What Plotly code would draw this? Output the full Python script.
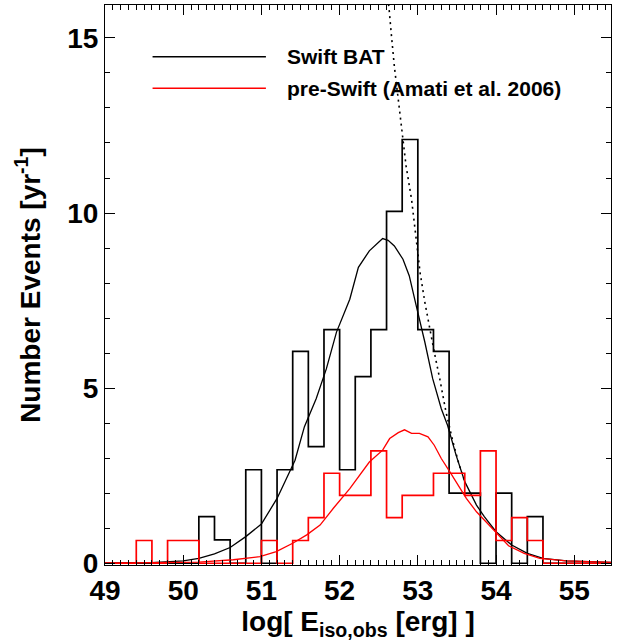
import plotly.graph_objects as go

# ---- data ----
bin_left = [49.0, 49.2, 49.4, 49.6, 49.8, 50.0, 50.2, 50.4, 50.6, 50.8, 51.0,
            51.2, 51.4, 51.6, 51.8, 52.0, 52.2, 52.4, 52.6, 52.8, 53.0, 53.2,
            53.4, 53.6, 53.8, 54.0, 54.2, 54.4, 54.6, 54.8, 55.0, 55.2, 55.4]
bin_width = 0.2

swift_counts = [0, 0, 0, 0, 0, 0, 1.33, 0.67, 0, 2.67, 0,
                2.67, 6.05, 3.33, 6.67, 2.67, 5.33, 6.67, 10.05, 12.1, 6.67, 6.05,
                2.0, 2.0, 0, 2.0, 0, 1.33, 0, 0, 0, 0, 0]

preswift_counts = [0, 0, 0.65, 0, 0.65, 0.65, 0, 0, 0, 0, 0.65,
                   0, 0.65, 1.30, 2.57, 1.94, 1.94, 3.21, 1.30, 1.94, 1.94, 2.57,
                   2.57, 1.94, 3.21, 0.65, 1.30, 0.65, 0, 0, 0, 0, 0]

swift_model_x = [49.0, 49.6, 50.0, 50.2, 50.4, 50.6, 50.8, 51.0, 51.2, 51.43,
                 51.55, 51.7, 51.83, 51.96, 52.13, 52.24, 52.38, 52.47, 52.55,
                 52.62, 52.70, 52.81, 52.89, 52.98, 53.09, 53.19, 53.30, 53.38,
                 53.49, 53.60, 53.75, 53.85, 54.0, 54.2, 54.4, 54.6, 54.9, 55.5]
swift_model_y = [0.0, 0.02, 0.07, 0.14, 0.27, 0.45, 0.76, 1.12, 1.85, 2.94,
                 3.9, 4.70, 5.55, 6.60, 7.54, 8.45, 8.92, 9.12, 9.27,
                 9.22, 9.06, 8.68, 8.21, 7.35, 6.31, 5.27, 4.41, 3.94,
                 3.08, 2.33, 1.66, 1.33, 0.90, 0.52, 0.28, 0.14, 0.07, 0.02]

preswift_model_x = [49.0, 50.2, 50.64, 50.98, 51.19, 51.4, 51.58, 51.75, 51.92,
                    52.13, 52.38, 52.55, 52.64, 52.75, 52.83, 52.92, 53.02,
                    53.13, 53.21, 53.30, 53.41, 53.51, 53.62, 53.75, 53.87,
                    54.02, 54.16, 54.36, 54.56, 54.9, 55.5]
preswift_model_y = [0.0, 0.03, 0.10, 0.19, 0.33, 0.57, 0.81, 1.09, 1.57,
                    2.13, 2.89, 3.23, 3.56, 3.73, 3.81, 3.71, 3.71,
                    3.61, 3.37, 2.99, 2.61, 2.23, 1.85, 1.47, 1.19,
                    0.85, 0.50, 0.28, 0.14, 0.07, 0.02]

limit_x = [52.60, 52.63, 52.66, 52.70, 52.75, 52.80, 52.85, 52.92, 52.97,
           53.03, 53.09, 53.15, 53.21, 53.28, 53.36, 53.45, 53.53, 53.60]
limit_y = [16.3, 15.89, 15.13, 14.18, 13.24, 12.29, 11.34, 10.39, 9.44,
           8.28, 7.45, 6.69, 6.03, 5.27, 4.32, 3.46, 2.80, 2.33]

legend_labels = ["Swift BAT", "pre-Swift (Amati et al. 2006)"]
legend_colors = ["black", "#ff0000"]

x_tickvals = [49, 50, 51, 52, 53, 54, 55]
y_tickvals = [0, 5, 10, 15]


def step_xy(lefts, vals, w):
    xs = list(lefts) + [lefts[-1] + w]
    ys = list(vals) + [vals[-1]]
    return xs, ys


fig = go.Figure()

hx, hy = step_xy(bin_left, swift_counts, bin_width)
fig.add_trace(go.Scatter(x=hx, y=hy, mode="lines", line_shape="hv",
                         line=dict(color="black", width=1.7), showlegend=False))
fig.add_trace(go.Scatter(x=swift_model_x, y=swift_model_y, mode="lines",
                         line=dict(color="black", width=1.3), showlegend=False))
fig.add_trace(go.Scatter(x=limit_x, y=limit_y, mode="lines",
                         line=dict(color="black", width=1.6, dash="2px,4px"),
                         showlegend=False))
rx, ry = step_xy(bin_left, preswift_counts, bin_width)
fig.add_trace(go.Scatter(x=rx, y=ry, mode="lines", line_shape="hv",
                         line=dict(color="#ff0000", width=1.7), showlegend=False))
fig.add_trace(go.Scatter(x=preswift_model_x, y=preswift_model_y, mode="lines",
                         line=dict(color="#ff0000", width=1.3), showlegend=False))

# legend drawn manually (long line samples)
leg_y = [0.9077, 0.8513]
for lab, col, yy in zip(legend_labels, legend_colors, leg_y):
    fig.add_shape(type="line", xref="paper", yref="paper",
                  x0=0.094, x1=0.318, y0=yy, y1=yy,
                  line=dict(color=col, width=1.5))
    fig.add_annotation(xref="paper", yref="paper", x=0.355, y=yy,
                       xanchor="left", yanchor="middle", showarrow=False,
                       text=lab,
                       font=dict(family="Liberation Sans, Arial", size=21,
                                 color="black", weight="bold"))

axis_font = dict(family="Liberation Sans, Arial", size=28, color="black",
                 weight="bold")

fig.update_layout(
    width=623, height=642,
    margin=dict(l=105, r=12, t=5, b=77),
    paper_bgcolor="white", plot_bgcolor="white",
    showlegend=False,
    xaxis=dict(range=[49, 55.47], tickvals=x_tickvals, automargin=False,
               ticks="inside", ticklen=10, tickwidth=1, tickcolor="black",
               minor=dict(dtick=0.1, tick0=49, ticks="inside", ticklen=5,
                          tickwidth=1, tickcolor="black", showgrid=False),
               showline=True, linecolor="black", linewidth=1, mirror="ticks",
               showgrid=False, zeroline=False,
               tickfont=axis_font,
               title=dict(text="log[ E<sub>iso,obs</sub> [erg] ]",
                          font=axis_font, standoff=6)),
    yaxis=dict(range=[-0.05, 15.94], tickvals=y_tickvals, automargin=False,
               ticks="inside", ticklen=10, tickwidth=1, tickcolor="black",
               minor=dict(dtick=1, tick0=0, ticks="inside", ticklen=5,
                          tickwidth=1, tickcolor="black", showgrid=False),
               showline=True, linecolor="black", linewidth=1, mirror="ticks",
               showgrid=False, zeroline=False,
               tickfont=axis_font,
               title=dict(text="Number Events [yr<sup>-1</sup>]",
                          font=axis_font, standoff=18)),
)

fig.write_html("out.html",
               config={"displayModeBar": False},
               post_script="document.body.style.margin='0';")
